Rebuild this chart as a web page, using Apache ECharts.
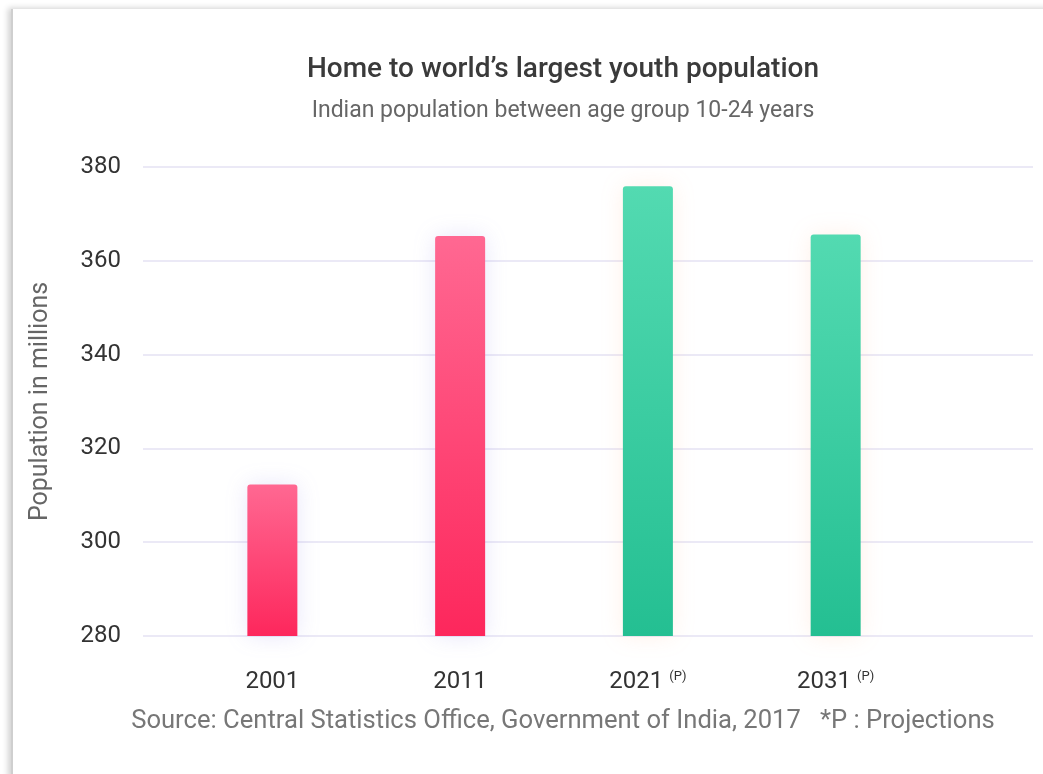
<!DOCTYPE html>
<html>
<head>
<meta charset="utf-8">
<script src="https://cdn.jsdelivr.net/npm/echarts@6/dist/echarts.min.js"></script>
<style>
    html, body { margin: 0; padding: 0; background: #fff; overflow: hidden; }
    #card {
        position: absolute;
        left: 11px;
        top: 9px;
        width: 1040px;
        height: 770px;
        background: #fff;
        border-left: 2px solid #cfcfcf;
        box-shadow: -3px -1px 6px rgba(0, 0, 0, 0.18);
    }
    #chart { width: 1040px; height: 770px; }
</style>
</head>
<body>
<div id="card"><div id="chart"></div></div>
<script>
// Datos
const years = ['2001', '2011', '2021', '2031'];
const projected = [false, false, true, true];
const population = [312.3, 365.3, 375.9, 365.6];
const yTicks = [280, 300, 320, 340, 360, 380];

document.addEventListener('DOMContentLoaded', function() {
    const chart = echarts.init(document.getElementById('chart'));

    // Colores por barra
    function barStyle(isProj) {
        if (isProj) {
            return {
                color: new echarts.graphic.LinearGradient(0, 0, 0, 1, [
                    { offset: 0, color: '#53dab1' },
                    { offset: 1, color: '#24bf92' }
                ]),
                borderRadius: [3, 3, 0, 0],
                shadowColor: 'rgba(255, 150, 90, 0.14)',
                shadowBlur: 22
            };
        }
        return {
            color: new echarts.graphic.LinearGradient(0, 0, 0, 1, [
                { offset: 0, color: '#ff6892' },
                { offset: 1, color: '#fd275c' }
            ]),
            borderRadius: [3, 3, 0, 0],
            shadowColor: 'rgba(110, 100, 230, 0.16)',
            shadowBlur: 22
        };
    }

    const seriesData = population.map(function(v, i) {
        return { value: [i + 1, v], itemStyle: barStyle(projected[i]) };
    });

    chart.setOption({
        animation: false,
        textStyle: { fontFamily: 'Roboto' },
        title: [
            {
                text: 'Home to world\u2019s largest youth population',
                left: 545,
                top: 42,
                textAlign: 'center',
                textStyle: { fontSize: 28, fontWeight: 500, color: '#3a3a3a' }
            },
            {
                text: 'Indian population between age group 10-24 years',
                left: 545,
                top: 86,
                textAlign: 'center',
                textStyle: { fontSize: 23, fontWeight: 'normal', color: '#666' }
            },
            {
                text: 'Source: Central Statistics Office, Government of India, 2017   *P : Projections',
                left: 545,
                top: 695,
                textAlign: 'center',
                textStyle: { fontSize: 25.6, fontWeight: 'normal', color: '#777' }
            }
        ],
        grid: { left: 130, right: 20, top: 158, bottom: 143 },
        xAxis: {
            type: 'value',
            min: 0.311,
            max: 5.051,
            axisLine: { show: false },
            axisTick: { show: false },
            splitLine: { show: false },
            axisLabel: {
                customValues: [1, 2, 3, 4],
                margin: 34,
                fontSize: 24,
                color: '#333',
                formatter: function(v) {
                    const i = Math.round(v) - 1;
                    return projected[i] ? years[i] + ' {p|(P)}' : years[i];
                },
                rich: {
                    p: { fontSize: 13, color: '#333', verticalAlign: 'top', padding: [0, 0, 10, 0] }
                }
            }
        },
        yAxis: {
            type: 'value',
            min: yTicks[0],
            max: yTicks[yTicks.length - 1],
            interval: 20,
            name: 'Population in millions',
            nameLocation: 'middle',
            nameRotate: 90,
            nameGap: 90,
            nameTextStyle: { fontSize: 25, color: '#666' },
            axisLine: { show: false },
            axisTick: { show: false },
            axisLabel: { fontSize: 24, color: '#333', margin: 22 },
            splitLine: { lineStyle: { color: '#ebe9f6', width: 2 } }
        },
        series: [
            {
                type: 'bar',
                barWidth: 50,
                data: seriesData
            }
        ]
    });
});
</script>
</body>
</html>
